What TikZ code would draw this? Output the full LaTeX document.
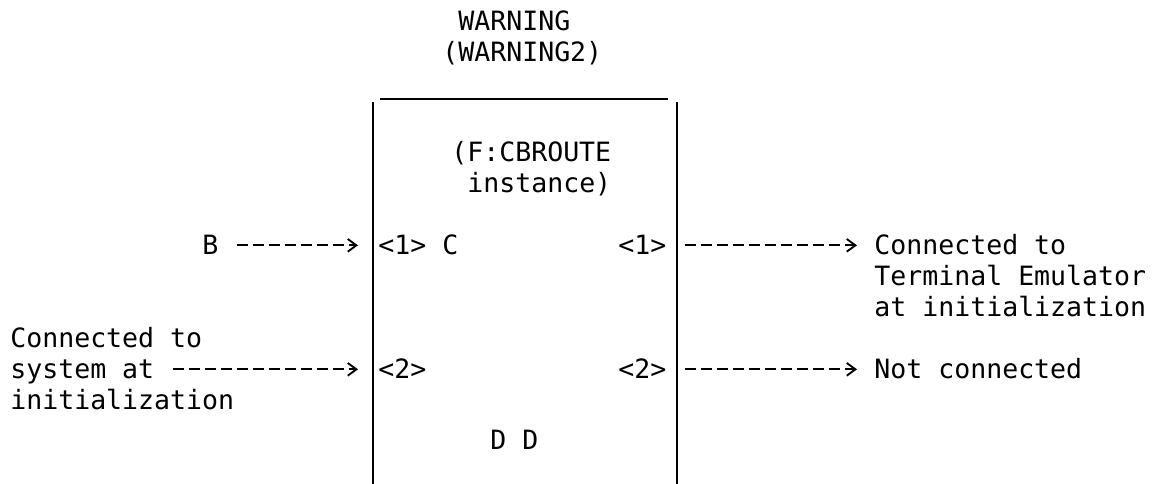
\documentclass[tikz,border=0pt]{standalone}
\usepackage{fontspec}
\newfontfamily\routemono{DejaVu Sans Mono}
\usetikzlibrary{arrows.meta}

\begin{document}
\begin{tikzpicture}[x=0.75pt, y=-0.75pt,
    txt/.style={font=\routemono\fontsize{19.93pt}{24pt}\selectfont, inner sep=0pt, anchor=base west, text height=14.5pt, text depth=0pt},
    wire/.style={line width=1.4pt, dash pattern=on 8.6pt off 3.4pt, -{Straight Barb[length=6.5pt,width=9.5pt]}, shorten <=13.7pt},
    ]
    \useasboundingbox (0,0) rectangle (1160,484);

        % Title above the box
        \node[txt] (warn) at (458,31) {WARNING};
        \node[txt] (warn2) at (442,62) {(WARNING2)};

        % The box (open at the bottom)
        \draw[line width=1.4pt] (380,99) -- (668,99);
        \draw[line width=1.9pt] (373,102) -- (373,490);
        \draw[line width=1.9pt] (677,102) -- (677,490);

        % Texts inside the box
        \node[txt] (inst1) at (451,162) {(F:CBROUTE};
        \node[txt] (inst2) at (467,193) {instance)};
        \node[txt] (in1) at (378,255) {<1> C};
        \node[txt] (out1) at (618,255) {<1>};
        \node[txt] (in2) at (378,379) {<2>};
        \node[txt] (out2) at (618,379) {<2>};
        \node[txt] (dd) at (490,450) {D D};

        % Texts on the left
        \node[txt] (b) at (202,255) {B};
        \node[txt] (sys1) at (10,348) {Connected to};
        \node[txt] (sys2) at (10,379) {system at};
        \node[txt] (sys3) at (10,410) {initialization};

        % Texts on the right
        \node[txt] (term1) at (874,255) {Connected to};
        \node[txt] (term2) at (874,286) {Terminal Emulator};
        \node[txt] (term3) at (874,317) {at initialization};
        \node[txt] (nc) at (874,379) {Not connected};

        % Draw arrows into the box
        \draw[wire, shorten >=15pt] (b) -- (in1);
        \draw[wire, shorten >=15pt] (sys2) -- (in2);

        % Draw arrows out of the box
        \draw[wire, shorten >=12.75pt] (out1) -- (term1);
        \draw[wire, shorten >=12.75pt] (out2) -- (nc);

\end{tikzpicture}
\end{document}
